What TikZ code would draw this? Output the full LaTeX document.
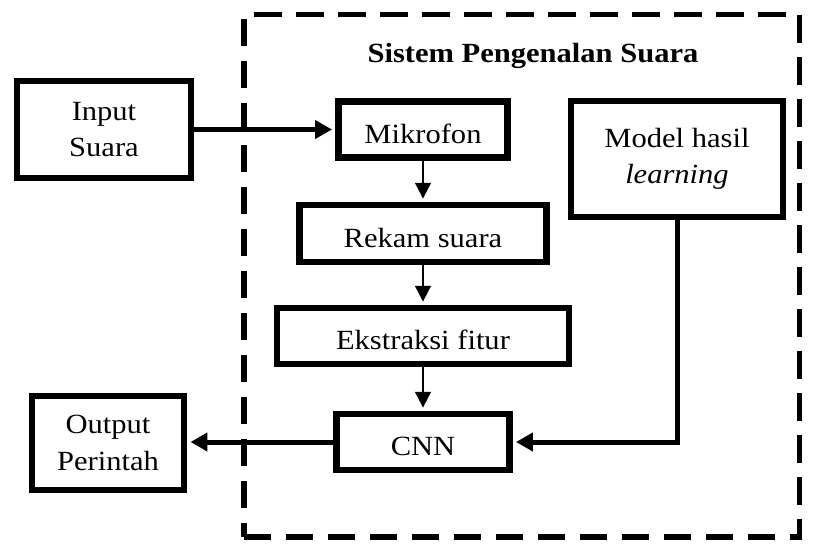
\documentclass[tikz,border=0pt]{standalone}
\usepackage{fontspec}
\setmainfont{Liberation Serif}[FakeStretch=1.1]
\usetikzlibrary{arrows.meta}

\begin{document}
\begin{tikzpicture}[font=\fontsize{15.8}{20.7}\selectfont]
% Definição de estilos
\tikzset{
  bloco/.style={rectangle, draw, line width=3.7pt, align=center, inner sep=0pt},
  etapa/.style={bloco, text height=15.9pt},
  sistema/.style={rectangle, draw, line width=3.4pt, dash pattern=on 15.4pt off 8.5pt},
  grossa/.style={line width=2.85pt, -{Triangle[length=9.7pt, width=10.2pt]}, shorten >=1.8pt},
  fina/.style={line width=1.1pt, -{Triangle[length=9pt, width=9pt]}, shorten >=1.8pt}
}

% Moldura
\useasboundingbox (0,0) rectangle (16.42,-11.08);

% Sistema de reconhecimento
\node[sistema, minimum width=11.11cm, minimum height=10.45cm] (sistema) at (10.435,-5.515) {};
\node[font=\fontsize{15.8}{20.7}\selectfont\bfseries] (titulo) at (10.66,-1.12) {Sistem Pengenalan Suara};

% Blocos
\node[bloco, minimum width=3.48cm, minimum height=1.94cm] (input) at (2.08,-2.59) {Input\\Suara};
\node[etapa, minimum width=3.38cm, minimum height=1.12cm] (mikrofon) at (8.46,-2.59) {Mikrofon};
\node[etapa, minimum width=4.94cm, minimum height=1.14cm] (rekam) at (8.46,-4.67) {Rekam suara};
\node[etapa, minimum width=5.84cm, minimum height=1.12cm] (ekstraksi) at (8.46,-6.72) {Ekstraksi fitur};
\node[etapa, minimum width=3.46cm, minimum height=1.12cm] (cnn) at (8.46,-8.84) {CNN};
\node[bloco, minimum width=4.24cm, minimum height=2.32cm] (model) at (13.54,-3.18) {Model hasil\\\textit{learning}};
\node[bloco, minimum width=3.04cm, minimum height=1.88cm] (output) at (2.16,-8.86) {Output\\Perintah};

% Setas
\draw[grossa] (input) -- (mikrofon);
\draw[fina] (mikrofon) -- (rekam);
\draw[fina] (rekam) -- (ekstraksi);
\draw[fina] (ekstraksi) -- (cnn);
\draw[grossa] (model.south) |- (cnn.east);
\draw[grossa] (cnn.west) -- (cnn.west -| output.east);

\end{tikzpicture}
\end{document}
